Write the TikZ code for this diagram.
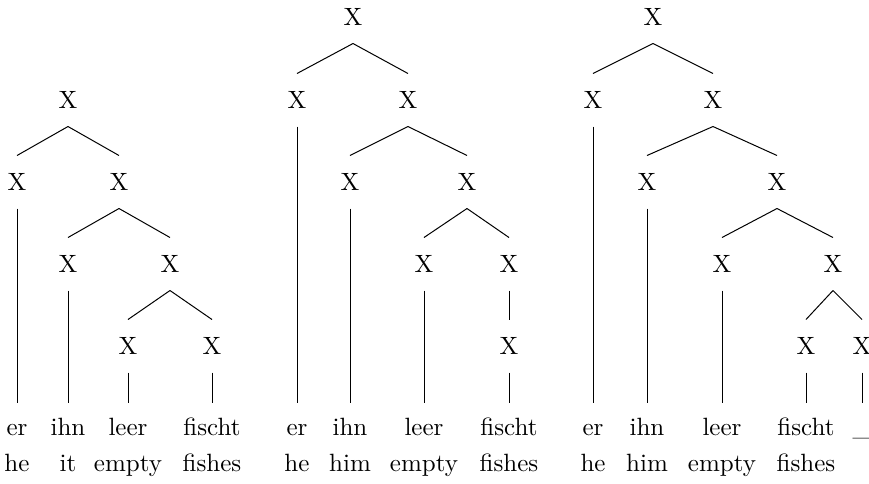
\documentclass[tikz,border=0pt]{standalone}
\usetikzlibrary{positioning}
\tikzset{
  cat/.style={inner sep=0pt, minimum height=20.8pt},
  word/.style={anchor=base, inner sep=0pt, text height=12.8pt, text depth=0pt},
  gloss/.style={anchor=base, inner sep=0pt},
}
\begin{document}
\begin{tikzpicture}[x=0.4pt,y=-0.4pt]
        \useasboundingbox (0,0) rectangle (869,483);
        % first tree
        \node[cat] (a1) at (68,100) {X};
        \node[cat] (a2) at (17,182) {X};
        \node[cat] (a3) at (119,182) {X};
        \node[cat] (a4) at (68,264) {X};
        \node[cat] (a5) at (170,264) {X};
        \node[cat] (a6) at (128,346) {X};
        \node[cat] (a7) at (212,346) {X};
        \node[word] (aw1) at (17,435) {er};
        \node[word] (aw2) at (68,435) {ihn};
        \node[word] (aw3) at (128,435) {leer};
        \node[word] (aw4) at (212,435) {fischt};
        \node[gloss] at (17,471) {he};
        \node[gloss] at (68,471) {it};
        \node[gloss] at (128,471) {empty};
        \node[gloss] at (212,471) {fishes};
        \draw (a1.south) -- (a2.north);
        \draw (a1.south) -- (a3.north);
        \draw (a3.south) -- (a4.north);
        \draw (a3.south) -- (a5.north);
        \draw (a5.south) -- (a6.north);
        \draw (a5.south) -- (a7.north);
        \draw (a2.south) -- (aw1.north);
        \draw (a4.south) -- (aw2.north);
        \draw (a6.south) -- (aw3.north);
        \draw (a7.south) -- (aw4.north);

        % second tree
        \node[cat] (b1) at (353,17) {X};
        \node[cat] (b2) at (297,100) {X};
        \node[cat] (b3) at (408,100) {X};
        \node[cat] (b4) at (350,182) {X};
        \node[cat] (b5) at (467,182) {X};
        \node[cat] (b6) at (424,264) {X};
        \node[cat] (b7) at (509,264) {X};
        \node[cat] (b8) at (509,346) {X};
        \node[word] (bw1) at (297,435) {er};
        \node[word] (bw2) at (350,435) {ihn};
        \node[word] (bw3) at (424,435) {leer};
        \node[word] (bw4) at (509,435) {fischt};
        \node[gloss] at (297,471) {he};
        \node[gloss] at (350,471) {him};
        \node[gloss] at (424,471) {empty};
        \node[gloss] at (509,471) {fishes};
        \draw (b1.south) -- (b2.north);
        \draw (b1.south) -- (b3.north);
        \draw (b3.south) -- (b4.north);
        \draw (b3.south) -- (b5.north);
        \draw (b5.south) -- (b6.north);
        \draw (b5.south) -- (b7.north);
        \draw (b7.south) -- (b8.north);
        \draw (b2.south) -- (bw1.north);
        \draw (b4.south) -- (bw2.north);
        \draw (b6.south) -- (bw3.north);
        \draw (b8.south) -- (bw4.north);

        % third tree
        \node[cat] (c1) at (653,17) {X};
        \node[cat] (c2) at (593,100) {X};
        \node[cat] (c3) at (713,100) {X};
        \node[cat] (c4) at (647,182) {X};
        \node[cat] (c5) at (777,182) {X};
        \node[cat] (c6) at (722,264) {X};
        \node[cat] (c7) at (833,264) {X};
        \node[cat] (c8) at (806,346) {X};
        \node[cat] (c9) at (862,346) {X};
        \node[word] (cw1) at (593,435) {er};
        \node[word] (cw2) at (647,435) {ihn};
        \node[word] (cw3) at (722,435) {leer};
        \node[word] (cw4) at (806,435) {fischt};
        \node[word] (cw5) at (862,435) {\_};
        \node[gloss] at (593,471) {he};
        \node[gloss] at (647,471) {him};
        \node[gloss] at (722,471) {empty};
        \node[gloss] at (806,471) {fishes};
        \draw (c1.south) -- (c2.north);
        \draw (c1.south) -- (c3.north);
        \draw (c3.south) -- (c4.north);
        \draw (c3.south) -- (c5.north);
        \draw (c5.south) -- (c6.north);
        \draw (c5.south) -- (c7.north);
        \draw (c7.south) -- (c8.north);
        \draw (c7.south) -- (c9.north);
        \draw (c2.south) -- (cw1.north);
        \draw (c4.south) -- (cw2.north);
        \draw (c6.south) -- (cw3.north);
        \draw (c8.south) -- (cw4.north);
        \draw (c9.south) -- (cw5.north);
\end{tikzpicture}
\end{document}
